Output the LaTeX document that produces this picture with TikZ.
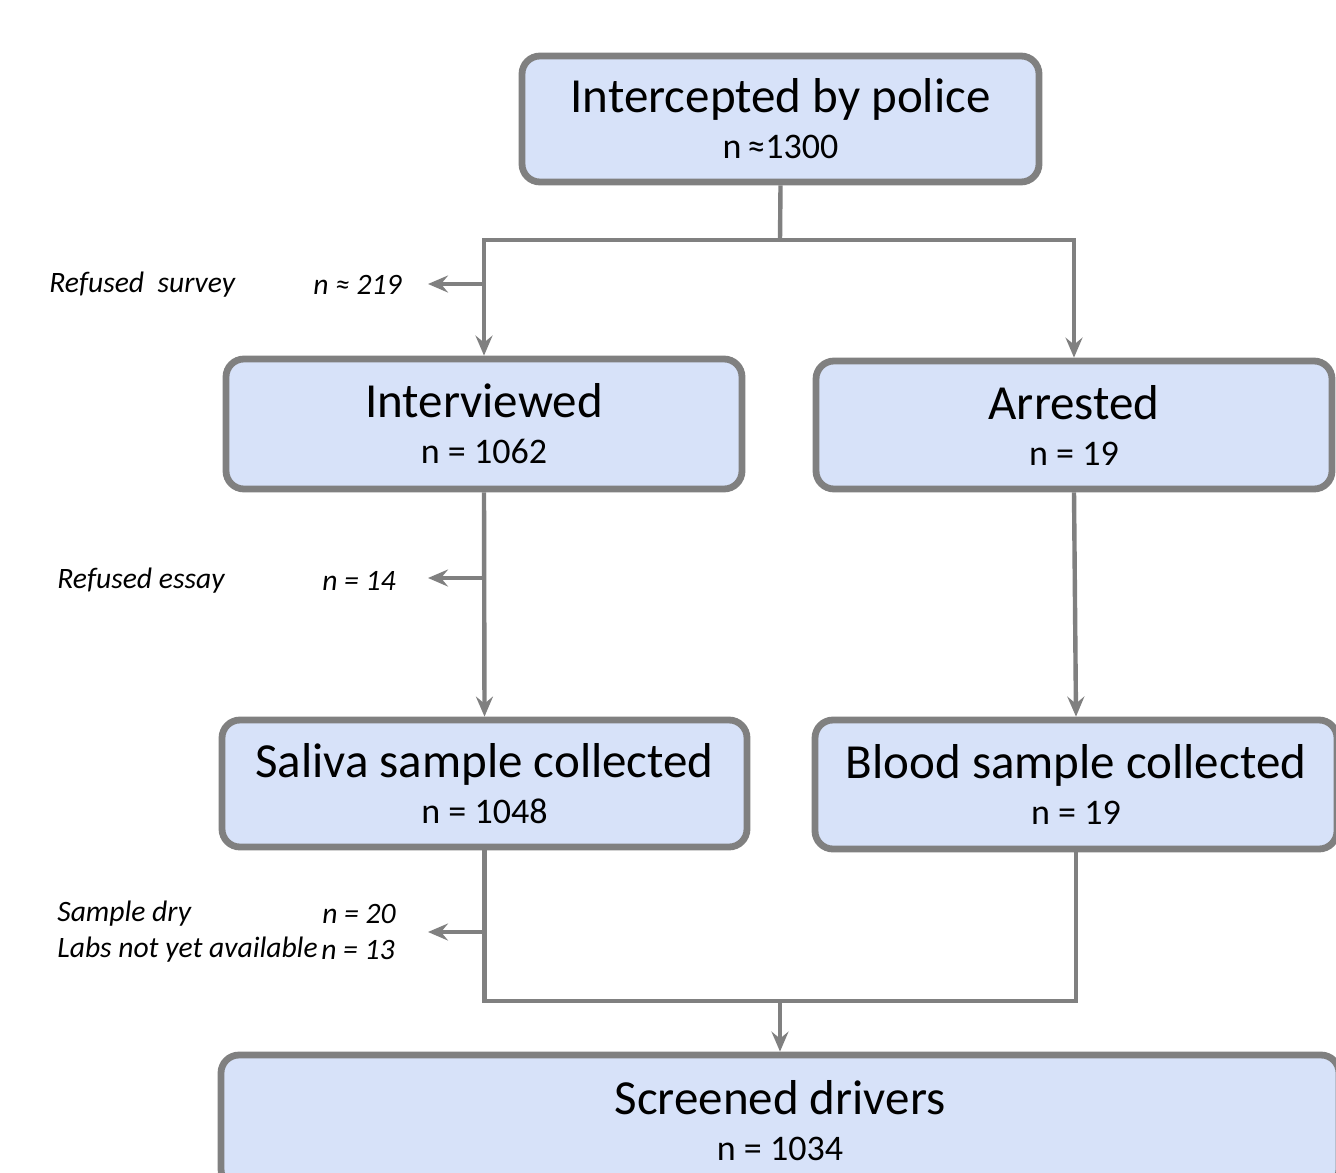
\documentclass[tikz,border=0pt]{standalone}
\usepackage{fontspec}
\setmainfont{Carlito}
\usetikzlibrary{arrows.meta}
\definecolor{boxblue}{HTML}{D7E2F9}
\definecolor{linegray}{HTML}{808080}
\tikzset{
  stage/.style={draw=linegray, line width=3.4pt, fill=boxblue, rounded corners=9pt,
    align=center, inner sep=0pt, font=\fontsize{18}{23}\selectfont},
  conn/.style={draw=linegray, line width=2.2pt},
  tip/.style={-{Stealth[length=10pt,width=8.5pt,inset=3.5pt]}},
  note/.style={font=\fontsize{14.8}{18}\selectfont\itshape, inner sep=0pt},
}
\newcommand{\stagetext}[2]{{\fontsize{24.5}{23}\selectfont #1}\\#2}
\begin{document}
\begin{tikzpicture}[x=0.5pt,y=-0.5pt]
        \useasboundingbox (0,0) rectangle (1336,1172);

        % Boxes
        \node[stage, minimum width=258.5pt, minimum height=63pt] (police)      at ( 780.5, 119)   {\stagetext{Intercepted by police}{n\,≈1300}};
        \node[stage, minimum width=258pt,   minimum height=65pt] (interviewed) at ( 484,   424)   {\stagetext{Interviewed}{n = 1062}};
        \node[stage, minimum width=258pt,   minimum height=64pt] (arrested)    at (1074,   425)   {\stagetext{Arrested}{n = 19}};
        \node[stage, minimum width=262.5pt, minimum height=63.5pt] (saliva)    at ( 484.5, 783.5) {\stagetext{Saliva sample collected}{n = 1048}};
        \node[stage, minimum width=261pt,   minimum height=64.5pt] (blood)     at (1076,   784.5) {\stagetext{Blood sample collected}{n = 19}};
        \node[stage, minimum width=559pt,   minimum height=66pt] (screened)    at ( 780,  1121)   {\stagetext{Screened drivers}{n = 1034}};

        % Junctions
        \coordinate (split)  at ( 780,  240);
        \coordinate (merge)  at ( 780, 1001);
        \coordinate (out1)   at ( 484,  284);
        \coordinate (out2)   at ( 484,  578);
        \coordinate (out3)   at ( 484,  932);

        % Connectors
        \draw[conn]     (police.south) -- (split);
        \draw[conn,tip] (split) -| (interviewed.north);
        \draw[conn,tip] (split) -| (arrested.north);
        \draw[conn,tip] (interviewed.south) -- (saliva.north);
        \draw[conn,tip] (arrested.south) -- (blood.north);
        \draw[conn]     (saliva.south) |- (merge) -| (blood.south);
        \draw[conn,tip] (merge) -- (screened.north);

        % Side notes
        \node[note, anchor=west] (survey)  at ( 49, 285) {Refused~ survey};
        \node[note, anchor=east] (surveyn) at (402, 285) {n ≈ 219};
        \node[note, anchor=west] (essay)   at ( 57, 581) {Refused essay};
        \node[note, anchor=east] (essayn)  at (396, 581) {n = 14};
        \node[note, anchor=west] (dry)     at ( 57, 914) {Sample dry};
        \node[note, anchor=east] (dryn)    at (396, 914) {n = 20};
        \node[note, anchor=west] (labs)    at ( 57, 950) {Labs not yet available};
        \node[note, anchor=east] (labsn)   at (395, 950) {n = 13};

        \draw[conn,tip] (out1) -- (out1 -| surveyn.east) [shorten >=13pt];
        \draw[conn,tip] (out2) -- (out2 -| essayn.east)  [shorten >=16pt];
        \draw[conn,tip] (out3) -- (out3 -| dryn.east)    [shorten >=16pt];
\end{tikzpicture}
\end{document}
